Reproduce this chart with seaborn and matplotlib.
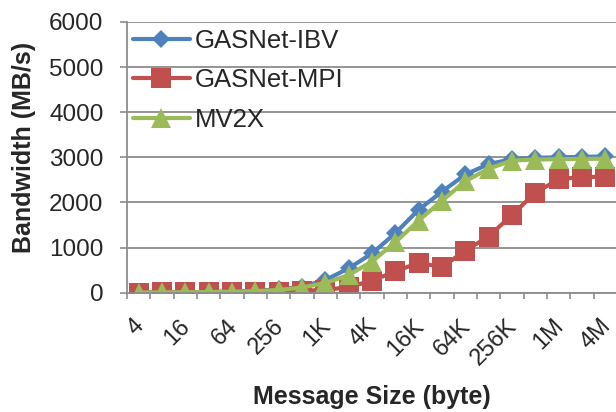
import numpy as np
import pandas as pd
import matplotlib
matplotlib.use("Agg")
import matplotlib.pyplot as plt
import matplotlib.transforms as mtrans
import seaborn as sns

# message sizes (bytes) and bandwidth in MB/s
sizes = ['4', '8', '16', '32', '64', '128', '256', '512', '1K', '2K', '4K',
         '8K', '16K', '32K', '64K', '128K', '256K', '512K', '1M', '2M', '4M']
gasnet_ibv = [5, 8, 12, 18, 28, 45, 75, 130, 280, 540, 870, 1320, 1840, 2240,
              2620, 2850, 2960, 2990, 3000, 3010, 3020]
gasnet_mpi = [3, 5, 7, 10, 14, 18, 25, 40, 65, 120, 270, 470, 665, 565, 935,
              1245, 1725, 2215, 2515, 2565, 2570]
mv2x = [4, 6, 10, 15, 22, 35, 60, 115, 215, 390, 690, 1120, 1600, 2040, 2470,
        2750, 2930, 2950, 2960, 2965, 2970]

series_names = ['GASNet-IBV', 'GASNet-MPI', 'MV2X']
colors = ['#4F81BD', '#C0504D', '#9BBB59']

sns.set_style("white")
plt.rcParams['font.family'] = ['Liberation Sans', 'DejaVu Sans']

pos = np.arange(len(sizes))
df = pd.DataFrame({'pos': pos, 'GASNet-IBV': gasnet_ibv,
                   'GASNet-MPI': gasnet_mpi, 'MV2X': mv2x})

fig = plt.figure(figsize=(6.16, 4.12), dpi=100)
ax = fig.add_axes([127 / 616, (412 - 292.7) / 412, 490 / 616, 270.7 / 412])

markers = {'GASNet-IBV': ('D', 9.5), 'GASNet-MPI': ('s', 14), 'MV2X': ('^', 14.5)}
for name, col in zip(series_names, colors):
    m, ms = markers[name]
    sns.lineplot(data=df, x='pos', y=name, ax=ax, color=col, linewidth=3,
                 marker=m, markersize=ms, markeredgewidth=0, label=name)

ax.set_xlim(-0.5, len(sizes) - 0.5)
ax.set_ylim(0, 6000)

grid_col = '#8C8C8C'
ax.set_yticks(range(0, 6001, 1000))
ax.yaxis.grid(True, color=grid_col, linewidth=1.3)
ax.set_axisbelow(True)
ax.tick_params(axis='y', labelsize=17.5, length=5, width=1.2, color=grid_col,
               pad=12, left=True)

ax.set_xticks(pos[::2])
ax.set_xticklabels(sizes[::2], rotation=45, ha='right', va='top',
                   rotation_mode='anchor', fontsize=17)
ax.set_xticks(np.arange(-0.5, len(sizes), 1), minor=True)
ax.tick_params(axis='x', which='major', length=0, pad=16)
ax.tick_params(axis='x', which='minor', length=4.5, width=1.2, color=grid_col,
               bottom=True)

for s in ['top', 'right']:
    ax.spines[s].set_visible(False)
for s in ['left', 'bottom']:
    ax.spines[s].set_color(grid_col)
    ax.spines[s].set_linewidth(1.3)

ax.set_xlabel('Message Size (byte)', fontsize=18, fontweight='bold')
ax.xaxis.set_label_coords(0.5, -0.34)
ax.set_ylabel('Bandwidth (MB/s)', fontsize=18, fontweight='bold')
ax.yaxis.set_label_coords(-0.186, 0.538)

ax.legend(loc='upper left', bbox_to_anchor=(6 / 490, 1 - 6.5 / 270.7),
          frameon=False, fontsize=18.5, handlelength=2.2, handletextpad=0.2,
          labelspacing=0.62, borderaxespad=0, borderpad=0)

# nudge the rotated size labels a little to the left (after tick_params)
shift = mtrans.ScaledTranslation(-6 / 100, 0, fig.dpi_scale_trans)
for lbl in ax.get_xticklabels():
    lbl.set_transform(lbl.get_transform() + shift)

fig.savefig('out.png', dpi=100)
